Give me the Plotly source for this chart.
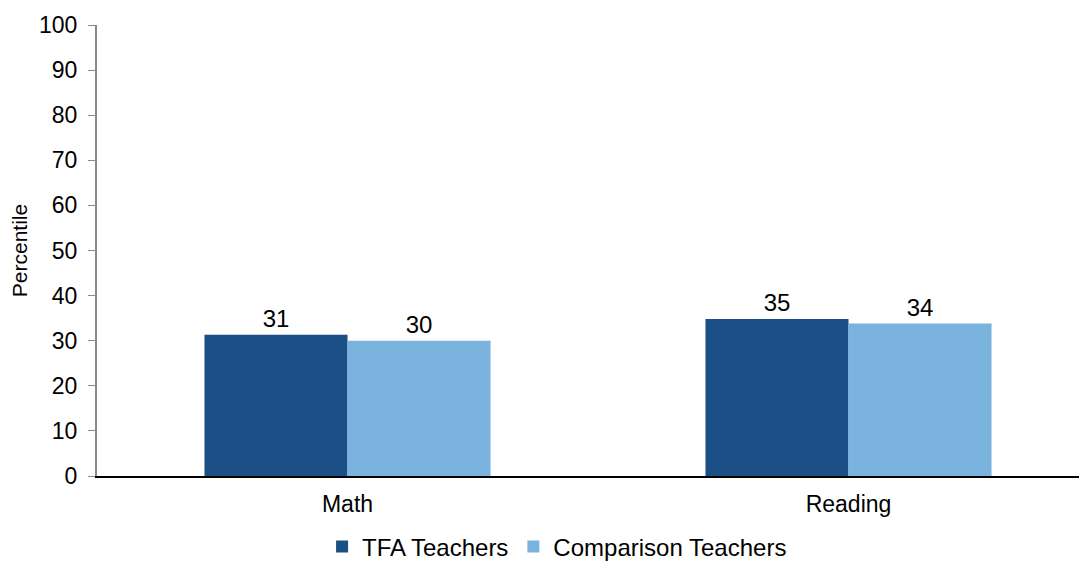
import plotly.graph_objects as go

categories = ["Math", "Reading"]
tfa_values = [31.3, 34.8]
comparison_values = [30.0, 33.8]
tfa_labels = ["31", "35"]
comparison_labels = ["30", "34"]
y_ticks = [0, 10, 20, 30, 40, 50, 60, 70, 80, 90, 100]

FONT = "Liberation Sans, Arial, sans-serif"

fig = go.Figure()
fig.add_trace(go.Bar(
    name="TFA Teachers", x=categories, y=tfa_values,
    text=tfa_labels, textposition="outside",
    textfont=dict(size=24, color="#000000", family=FONT),
    marker=dict(color="#1d4f87", line=dict(width=0)),
    cliponaxis=False,
))
fig.add_trace(go.Bar(
    name="Comparison Teachers", x=categories, y=comparison_values,
    text=comparison_labels, textposition="outside",
    textfont=dict(size=24, color="#000000", family=FONT),
    marker=dict(color="#7ab3de", line=dict(width=0)),
    cliponaxis=False,
))

fig.update_layout(
    width=1087, height=565,
    margin=dict(l=89, r=0, t=17, b=97),
    paper_bgcolor="white", plot_bgcolor="white",
    barmode="group", bargap=0.429, bargroupgap=0,
    font=dict(family=FONT, size=23, color="#000000"),
    showlegend=True,
    legend=dict(
        orientation="h", x=0.461, xanchor="center",
        yref="container", y=0.046, yanchor="middle",
        font=dict(size=24, family=FONT), traceorder="normal",
        itemwidth=30,
    ),
    xaxis=dict(
        type="category", range=[-0.5, 1.492], automargin=False,
        showline=True, linecolor="#000000", linewidth=2,
        ticks="", showgrid=False, tickfont=dict(size=23),
        ticklabelstandoff=6,
    ),
    yaxis=dict(
        range=[0, 100], tickvals=y_ticks, showgrid=False, zeroline=False,
        automargin=False,
        showline=True, linecolor="#888888", linewidth=2,
        ticks="outside", ticklen=7, tickcolor="#888888", tickwidth=1,
        ticklabelstandoff=6,
        tickfont=dict(size=23),
        title=dict(text="Percentile", font=dict(size=21), standoff=6),
    ),
)

fig.write_html("out.html")
